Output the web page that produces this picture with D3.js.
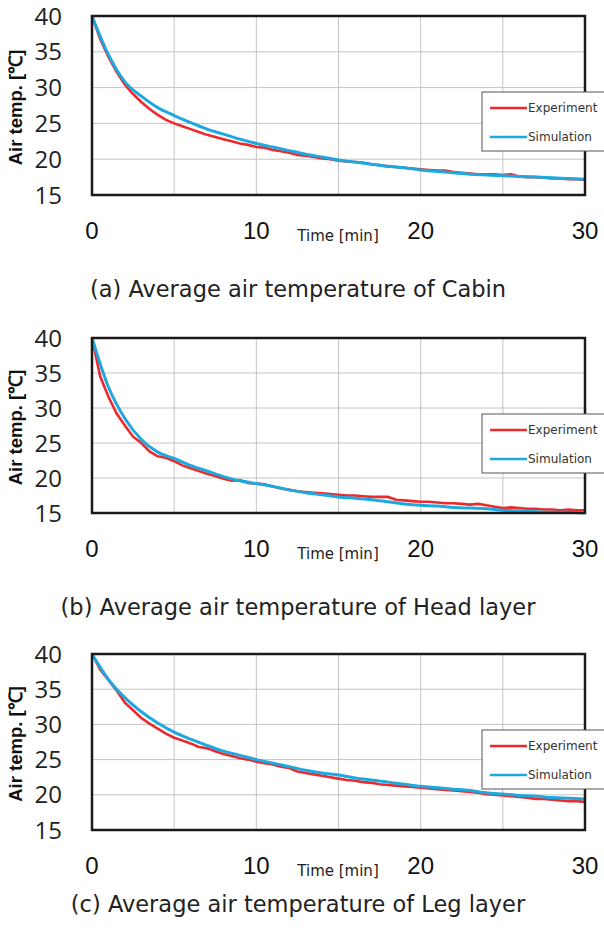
<!DOCTYPE html>
<html>
<head>
<meta charset="utf-8">
<script src="https://cdn.jsdelivr.net/npm/d3@7"></script>
<style>
  body{margin:0;background:#fff;}
  svg{display:block;}
  .grid line{stroke:#c4c4c4;stroke-width:1;}
  .frame{fill:none;stroke:#1a1a1a;stroke-width:2.5;}
  .ytick{font-family:"Open Sans",sans-serif;font-size:24px;fill:#222;}
  .xtick{font-family:"Liberation Sans",Arial,sans-serif;font-size:24px;fill:#111;}
  .ylab{font-family:"Liberation Sans",Arial,sans-serif;font-weight:bold;font-size:18.5px;fill:#111;}
  .xlab{font-family:"DejaVu Sans",sans-serif;font-size:15px;fill:#222;}
  .cap{font-family:"DejaVu Sans",sans-serif;font-size:22.5px;fill:#222;}
  .leg text{font-family:"DejaVu Sans",sans-serif;font-size:12px;fill:#333;}
  .exp{fill:none;stroke:#ec2a2c;stroke-width:2.6;}
  .sim{fill:none;stroke:#1ea8e0;stroke-width:3;}
</style>
</head>
<body>
<div id="chart"></div>
<script>
// time axis (min)
const timeExp=[0,0.5,1,1.5,2,2.5,3,3.5,4,4.5,5,5.5,6,6.5,7,7.5,8,8.5,9,9.5,10,10.5,11,11.5,12,12.5,13,13.5,14,14.5,15,
  15.5,16,16.5,17,17.5,18,18.5,19,19.5,20,20.5,21,21.5,22,22.5,23,23.5,24,24.5,25,25.5,26,26.5,27,27.5,28,28.5,29,29.5,30];
const timeSim=[0,1,2,3,4,5,6,7,8,9,10,11,12,13,14,15,16,17,18,19,20,21,22,23,24,25,26,27,28,29,30];

// (a) cabin
const cabinExp=[40,36.8,34.3,32.2,30.4,29.1,28.0,27.0,26.2,25.5,25.0,24.6,24.2,23.8,23.4,23.1,22.8,22.5,22.2,22.0,21.7,
  21.6,21.3,21.1,20.9,20.6,20.5,20.3,20.1,20.0,19.8,19.7,19.6,19.5,19.3,19.2,19.0,18.9,18.8,18.7,18.6,18.5,18.4,18.4,
  18.2,18.1,18.0,17.9,17.9,17.9,17.8,17.9,17.6,17.5,17.5,17.4,17.3,17.3,17.2,17.2,17.1];
const cabinSim=[40,34.6,30.8,28.8,27.2,26.1,25.1,24.2,23.5,22.8,22.2,21.7,21.2,20.7,20.3,19.9,19.6,19.3,19.0,18.8,18.5,
  18.3,18.1,17.9,17.8,17.7,17.6,17.5,17.4,17.3,17.2];

// (b) head layer
const headExp=[40,34.5,31.6,29.2,27.5,25.9,25.0,23.8,23.1,22.9,22.4,21.8,21.4,21.0,20.6,20.3,19.9,19.6,19.7,19.3,19.2,
  19.1,18.8,18.5,18.3,18.1,18.0,17.9,17.8,17.7,17.6,17.5,17.5,17.4,17.3,17.3,17.3,16.9,16.8,16.7,16.6,16.6,16.5,16.4,
  16.4,16.3,16.2,16.3,16.1,15.9,15.7,15.8,15.7,15.6,15.6,15.5,15.5,15.4,15.5,15.4,15.4];
const headSim=[40,33.0,28.5,25.5,23.7,22.8,21.8,21.0,20.2,19.6,19.2,18.8,18.3,17.9,17.6,17.3,17.1,16.9,16.6,16.3,16.1,
  16.0,15.8,15.7,15.6,15.4,15.3,15.2,15.1,15.1,15.0];

// (c) leg layer
const legExp=[40,37.8,36.3,34.8,33.1,32.0,30.9,30.1,29.4,28.7,28.1,27.7,27.3,26.8,26.6,26.2,25.8,25.5,25.2,25.0,24.7,
  24.5,24.3,24.0,23.8,23.3,23.1,22.9,22.7,22.5,22.3,22.1,22.0,21.8,21.7,21.5,21.4,21.3,21.2,21.1,21.0,20.9,20.8,20.7,
  20.6,20.5,20.4,20.3,20.1,20.0,19.9,19.8,19.7,19.6,19.4,19.4,19.3,19.2,19.1,19.1,19.0];
const legSim=[40,36.4,33.8,31.8,30.2,28.9,27.9,27.0,26.2,25.6,25.0,24.5,24.0,23.5,23.1,22.8,22.4,22.1,21.8,21.5,21.2,
  21.0,20.8,20.6,20.3,20.1,19.9,19.8,19.6,19.5,19.4];

const captions=['(a) Average air temperature of Cabin','(b) Average air temperature of Head layer','(c) Average air temperature of Leg layer'];
const seriesNames=['Experiment','Simulation'];
const xTicks=[0,10,20,30], xGrid=[5,10,15,20,25];
const yTicks=[15,20,25,30,35,40];

const panels=[
  {top:16,h:179,cap:297,exp:cabinExp,sim:cabinSim},
  {top:338,h:175,cap:615,exp:headExp,sim:headSim},
  {top:654,h:176,cap:912,exp:legExp,sim:legSim}
];

const W=604,H=938,L=92,R=585;
const svg=d3.select('#chart').append('svg').attr('width',W).attr('height',H);
const x=d3.scaleLinear().domain([0,30]).range([L,R]);

panels.forEach((p,i)=>{
  const y=d3.scaleLinear().domain([15,40]).range([p.top+p.h,p.top]);
  const g=svg.append('g');

  const grid=g.append('g').attr('class','grid');
  grid.selectAll('.gx').data(xGrid).enter().append('line')
    .attr('x1',d=>x(d)).attr('x2',d=>x(d)).attr('y1',p.top).attr('y2',p.top+p.h);
  grid.selectAll('.gy').data(yTicks.slice(1,-1)).enter().append('line')
    .attr('x1',L).attr('x2',R).attr('y1',d=>y(d)).attr('y2',d=>y(d));

  const lineE=d3.line().x((d,k)=>x(timeExp[k])).y(d=>y(d));
  const lineS=d3.line().x((d,k)=>x(timeSim[k])).y(d=>y(d)).curve(d3.curveMonotoneX);
  g.append('path').attr('class','exp').datum(p.exp).attr('d',lineE);
  g.append('path').attr('class','sim').datum(p.sim).attr('d',lineS);

  g.append('rect').attr('class','frame').attr('x',L).attr('y',p.top).attr('width',R-L).attr('height',p.h);

  g.selectAll('.ytick').data(yTicks).enter().append('text').attr('class','ytick')
    .attr('x',62).attr('y',d=>y(d)).attr('dy','0.36em').attr('text-anchor','end').text(d=>d);

  g.selectAll('.xtick').data(xTicks).enter().append('text').attr('class','xtick')
    .attr('x',d=>x(d)).attr('y',p.top+p.h+44).attr('text-anchor','middle').text(d=>d);

  g.append('text').attr('class','xlab').attr('x',338).attr('y',p.top+p.h+46).attr('text-anchor','middle').text('Time [min]');

  g.append('text').attr('class','ylab')
    .attr('transform',`translate(22,${p.top+p.h/2+2}) rotate(-90)`)
    .attr('text-anchor','middle').text('Air temp. [℃]');

  // legend
  const ly=p.top+76;
  const leg=g.append('g').attr('class','leg').attr('transform',`translate(482,${ly})`);
  leg.append('rect').attr('x',0).attr('y',0).attr('width',130).attr('height',59)
    .attr('fill','#fff').attr('stroke','#555').attr('stroke-width',1);
  seriesNames.forEach((s,k)=>{
    leg.append('line').attr('class',k?'sim':'exp').attr('x1',8).attr('x2',45)
      .attr('y1',16+k*29).attr('y2',16+k*29).style('stroke-width',2.5);
    leg.append('text').attr('x',46).attr('y',16+k*29).attr('dy','0.35em').text(s);
  });

  svg.append('text').attr('class','cap').attr('x',298).attr('y',p.cap).attr('text-anchor','middle').text(captions[i]);
});
</script>
</body>
</html>
